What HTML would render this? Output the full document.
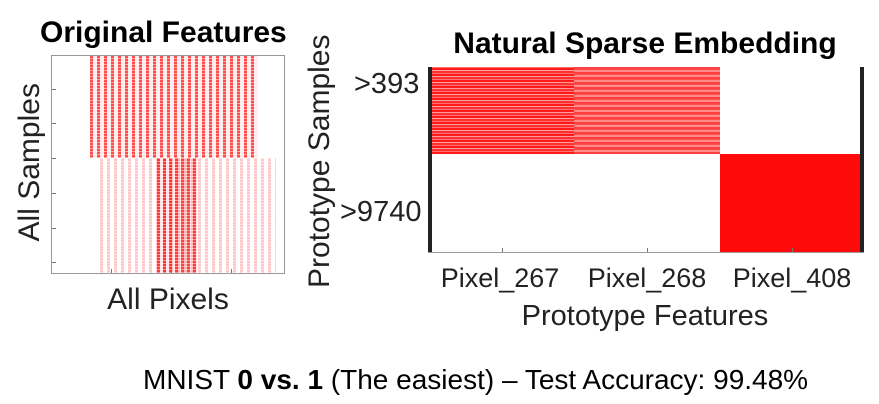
<!DOCTYPE html><html><head><style>
body{margin:0;width:879px;height:404px;background:#fff;position:relative;overflow:hidden;font-family:"Liberation Sans",sans-serif;}
.a{position:absolute;line-height:1.15;}
.rot{transform:rotate(-90deg);transform-origin:center;white-space:nowrap;}
</style></head><body>
<div class="a" style="left:40px;top:16px;font-weight:bold;font-size:30px;white-space:nowrap;">Original Features</div>
<div class="a" style="left:51px;top:55px;width:232px;height:217px;border:1px solid #999;">
 <div class="a" style="left:38px;top:0;width:168px;height:102px;background:repeating-linear-gradient(90deg,rgba(255,0,0,.7) 0 3px,rgba(255,0,0,.08) 3px 7px);"></div>
 <div class="a" style="left:38px;top:0;width:168px;height:102px;background:repeating-linear-gradient(0deg,rgba(255,255,255,.45) 0 1px,transparent 1px 3px);"></div>
 <div class="a" style="left:48px;top:102px;width:176px;height:115px;background:repeating-linear-gradient(90deg,rgba(255,0,0,.22) 0 3px,transparent 3px 7px);"></div>
 <div class="a" style="left:105px;top:102px;width:40px;height:115px;background:repeating-linear-gradient(90deg,rgba(255,0,0,.75) 0 3px,rgba(255,0,0,.1) 3px 6px);"></div>
 <div class="a" style="left:48px;top:102px;width:176px;height:115px;background:repeating-linear-gradient(0deg,rgba(255,255,255,.45) 0 1px,transparent 1px 3px);"></div>
 <div class="a" style="left:0;top:33px;width:4px;height:1px;background:#777"></div>
 <div class="a" style="left:0;top:67px;width:4px;height:1px;background:#777"></div>
 <div class="a" style="left:0;top:102px;width:4px;height:1px;background:#777"></div>
 <div class="a" style="left:0;top:137px;width:4px;height:1px;background:#777"></div>
 <div class="a" style="left:0;top:172px;width:4px;height:1px;background:#777"></div>
 <div class="a" style="left:0;top:206px;width:4px;height:1px;background:#777"></div>
 <div class="a" style="left:59px;top:213px;width:1px;height:4px;background:#777"></div>
 <div class="a" style="left:119px;top:213px;width:1px;height:4px;background:#777"></div>
 <div class="a" style="left:179px;top:213px;width:1px;height:4px;background:#777"></div>
</div>
<div class="a rot" style="left:-60px;top:145px;width:180px;text-align:center;font-size:30px;color:#222;">All Samples</div>
<div class="a" style="left:51px;top:283px;width:234px;text-align:center;font-size:30px;color:#222;">All Pixels</div>

<div class="a" style="left:400px;top:27px;width:490px;text-align:center;font-weight:bold;font-size:30px;white-space:nowrap;">Natural Sparse Embedding</div>
<div class="a" style="left:428px;top:67px;width:436px;height:185px;border-bottom:1px solid #999;">
 <div class="a" style="left:4px;top:0;width:142px;height:87px;background:repeating-linear-gradient(0deg,#ff1a1a 0 2px,#ff7070 2px 3px,#ff3030 3px 5px,#ffa0a0 5px 6px);"></div>
 <div class="a" style="left:146px;top:0;width:146px;height:87px;background:repeating-linear-gradient(0deg,#ff4040 0 2px,#ff8a8a 2px 4px,#ff5050 4px 5px);"></div>
 <div class="a" style="left:292px;top:87px;width:140px;height:98px;background:#ff0a0a;"></div>
 <div class="a" style="left:0;top:0;width:4px;height:185px;background:#222"></div>
 <div class="a" style="left:432px;top:0;width:4px;height:185px;background:#222"></div>
 <div class="a" style="left:74px;top:181px;width:1px;height:4px;background:#777"></div>
 <div class="a" style="left:219px;top:181px;width:1px;height:4px;background:#777"></div>
 <div class="a" style="left:364px;top:181px;width:1px;height:4px;background:#777"></div>
</div>
<div class="a" style="left:354px;top:68px;font-size:29px;color:#222;">&gt;393</div>
<div class="a" style="left:340px;top:196px;font-size:29px;color:#222;">&gt;9740</div>
<div class="a rot" style="left:190px;top:144px;width:260px;text-align:center;font-size:30px;color:#222;">Prototype Samples</div>
<div class="a" style="left:420px;top:263px;width:160px;text-align:center;font-size:27px;color:#222;">Pixel_267</div>
<div class="a" style="left:567px;top:263px;width:160px;text-align:center;font-size:27px;color:#222;">Pixel_268</div>
<div class="a" style="left:712px;top:263px;width:160px;text-align:center;font-size:27px;color:#222;">Pixel_408</div>
<div class="a" style="left:400px;top:300px;width:490px;text-align:center;font-size:29px;color:#222;">Prototype Features</div>
<div class="a" style="left:143px;top:364px;font-size:28px;color:#000;white-space:nowrap;">MNIST <b>0 vs. 1</b> (The easiest) – Test Accuracy: 99.48%</div>
</body></html>
